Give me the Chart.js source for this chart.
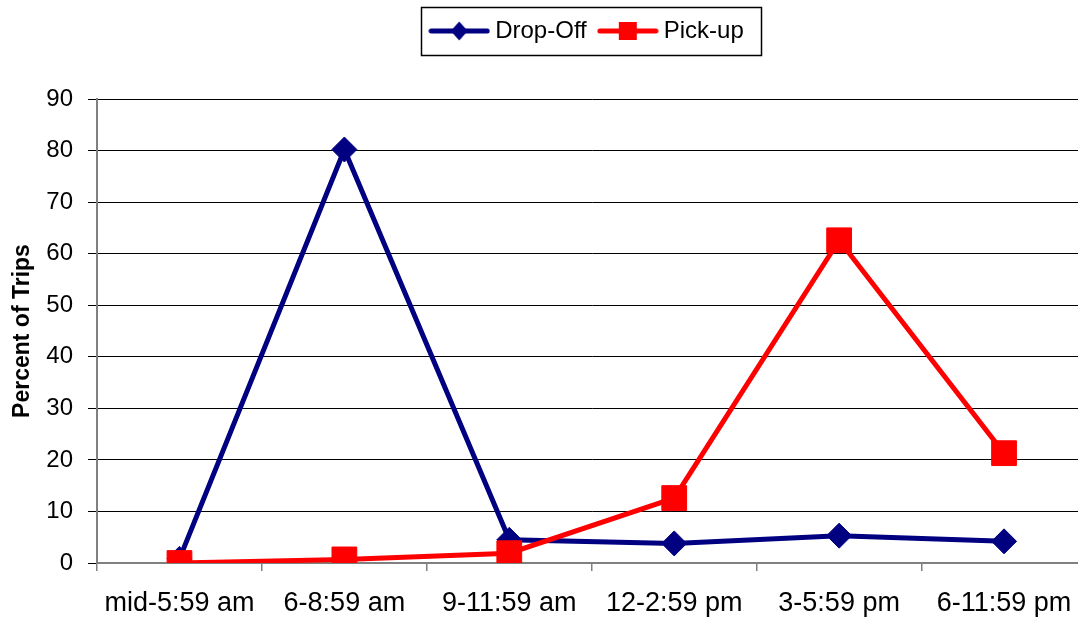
<!DOCTYPE html>
<html>
<head>
<meta charset="utf-8">
<script src="https://cdn.jsdelivr.net/npm/chart.js@4"></script>
<style>
    html, body { margin: 0; padding: 0; background: #fff; overflow: hidden; }
    #wrap { position: relative; width: 1105px; height: 618px; }
</style>
</head>
<body>
<div id="wrap"><canvas id="tripChart"></canvas></div>
<script>
// 1. Data
const timeBands = ['mid-5:59 am', '6-8:59 am', '9-11:59 am', '12-2:59 pm', '3-5:59 pm', '6-11:59 pm'];
const dropOff = [0.8, 80.2, 4.5, 3.8, 5.3, 4.2];
const pickUp = [0, 0.7, 1.9, 12.6, 62.6, 21.3];
const yTicks = [0, 10, 20, 30, 40, 50, 60, 70, 80, 90];

const NAVY = '#000080';
const RED = '#ff0000';
const FONT = '"Liberation Sans", Arial, sans-serif';

// 2. Legend symbols (line + marker, like the old office charts)
function legendSymbol(color, shape) {
    const c = document.createElement('canvas');
    c.width = 62; c.height = 24;
    const g = c.getContext('2d');
    g.strokeStyle = color;
    g.lineWidth = 5;
    g.lineCap = 'round';
    g.beginPath(); g.moveTo(3, 12); g.lineTo(59, 12); g.stroke();
    g.fillStyle = color;
    if (shape === 'diamond') {
        g.beginPath();
        g.moveTo(31, 2.5); g.lineTo(39.5, 12); g.lineTo(31, 21.5); g.lineTo(22.5, 12);
        g.closePath(); g.fill();
    } else {
        g.fillRect(22, 3, 18, 18);
    }
    return c;
}
const symbols = [legendSymbol(NAVY, 'diamond'), legendSymbol(RED, 'square')];

// 3. Small plugin: move legend to where the original sits and box it
const legendFrame = {
    id: 'legendFrame',
    afterLayout(chart) {
        const lg = chart.legend;
        const dx = 589.5 - (lg.left + lg.right) / 2;
        const dy = 2 - lg.top;
        lg.left += dx; lg.right += dx;
        lg.top += dy; lg.bottom += dy;
    },
    afterDraw(chart) {
        const ctx = chart.ctx;
        ctx.save();
        ctx.strokeStyle = '#000';
        ctx.lineWidth = 1.5;
        ctx.strokeRect(421.5, 7.5, 340, 48);
        ctx.restore();
    }
};

// 4. Chart
new Chart(document.getElementById('tripChart'), {
    type: 'line',
    data: {
        labels: timeBands,
        datasets: [
            {
                label: 'Drop-Off', data: dropOff, order: 1,
                borderColor: NAVY, backgroundColor: NAVY, borderWidth: 5,
                pointStyle: 'rectRot', pointRadius: 12.5, pointBorderWidth: 1,
                pointBackgroundColor: NAVY, pointBorderColor: NAVY, tension: 0
            },
            {
                label: 'Pick-up', data: pickUp, order: 0,
                borderColor: RED, backgroundColor: RED, borderWidth: 5,
                pointStyle: 'rect', pointRadius: 17.5, pointBorderWidth: 1,
                pointBackgroundColor: RED, pointBorderColor: RED, tension: 0
            }
        ]
    },
    options: {
        responsive: true,
        maintainAspectRatio: false,
        animation: false,
        layout: { padding: { top: 48, left: 0, right: 1, bottom: 0 } },
        plugins: {
            tooltip: { enabled: false },
            legend: {
                position: 'top',
                labels: {
                    usePointStyle: true,
                    pointStyleWidth: 48,
                    padding: 17,
                    color: '#000',
                    font: { family: FONT, size: 24 },
                    generateLabels(chart) {
                        return chart.data.datasets.map((ds, i) => ({
                            text: ds.label,
                            pointStyle: symbols[i],
                            fillStyle: ds.borderColor,
                            strokeStyle: ds.borderColor,
                            lineWidth: 0,
                            hidden: false,
                            datasetIndex: i
                        }));
                    }
                }
            }
        },
        scales: {
            x: {
                offset: true,
                afterFit(axis) {
                    axis.paddingLeft = 0;
                    axis.paddingRight = 0;
                    axis.height = 55;
                },
                grid: { offset: true, drawOnChartArea: false, tickLength: 8, color: '#808080', lineWidth: 1.5 },
                border: { color: '#808080', width: 2 },
                ticks: { color: '#000', padding: 16, maxRotation: 0, font: { family: FONT, size: 27 } }
            },
            y: {
                min: 0, max: 90,
                afterBuildTicks(axis) { axis.ticks = yTicks.map(v => ({ value: v })); },
                afterFit(axis) { axis.width = 97; },
                grid: { color: '#000', lineWidth: 1, tickLength: 9, tickColor: '#000' },
                border: { color: '#808080', width: 2 },
                ticks: { color: '#000', padding: 15, font: { family: FONT, size: 24 } },
                title: {
                    display: true, text: 'Percent of Trips', color: '#000',
                    padding: { top: 9, bottom: 10 },
                    font: { family: FONT, size: 23, weight: 'bold' }
                }
            }
        }
    },
    plugins: [legendFrame]
});
</script>
</body>
</html>
